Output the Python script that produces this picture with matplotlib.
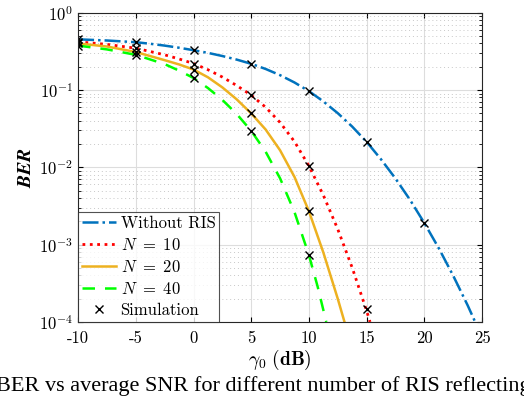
import matplotlib
matplotlib.use("Agg")
import matplotlib.pyplot as plt
import numpy as np

plt.rcParams['mathtext.fontset'] = 'cm'
plt.rcParams['font.family'] = 'serif'
plt.rcParams['font.serif'] = ['cmr10', 'DejaVu Serif']
plt.rcParams['axes.formatter.use_mathtext'] = True

# curves: SNR (dB) and BER
snr_norIS = [-10, -7.5, -5, -3.75, -2.5, -1.25, 0, 1.25, 2.5, 3.75, 5, 6.25,
             7.5, 8.75, 10, 11.25, 12.5, 13.75, 15, 16.25, 17.5, 18.75, 20,
             21.25, 22.5, 23.75, 24.4]
ber_norIS = [0.452, 0.4365, 0.415, 0.396, 0.375, 0.352, 0.327, 0.302, 0.275,
             0.247, 0.218, 0.187, 0.1555, 0.125, 0.0966, 0.0711, 0.0501,
             0.0336, 0.0213, 0.01266, 0.00715, 0.00381, 0.0019, 0.000898,
             0.000396, 0.000164, 0.0001]

snr_n10 = [-10, -7.5, -5, -2.5, -1.25, 0, 1.25, 2.5, 3.75, 5, 6.25, 7.5, 8.75,
           10, 11.25, 12.5, 13.75, 15, 15.29]
ber_n10 = [0.42, 0.389, 0.347, 0.285, 0.252, 0.22, 0.183, 0.147, 0.114, 0.0857,
           0.0598, 0.038, 0.0215, 0.0104, 0.00435, 0.00158, 0.000502, 0.000139,
           0.0001]

snr_n20 = [-10, -7.5, -5, -2.5, -1.25, 0, 1.25, 2.5, 3.75, 5, 6.25, 7.5, 8.75,
           10, 11.25, 12.5, 13.08]
ber_n20 = [0.40, 0.365, 0.31, 0.243, 0.214, 0.184, 0.146, 0.108, 0.0755,
           0.0497, 0.0308, 0.0166, 0.0075, 0.0027, 0.00079, 0.000199, 0.0001]

snr_n40 = [-10, -7.5, -5, -2.5, -1.25, 0, 1.25, 2.5, 3.75, 5, 6.25, 7.5, 8.75,
           10, 10.75, 11.5]
ber_n40 = [0.375, 0.335, 0.285, 0.216, 0.178, 0.143, 0.106, 0.0744, 0.0488,
           0.0296, 0.0159, 0.0072, 0.00263, 0.00073, 0.000288, 0.0001]

# simulation points
sim_snr = [-10, -5, 0, 5, 10, 15, 20,
           -10, -5, 0, 5, 10, 15,
           -10, -5, 0, 5, 10,
           -10, -5, 0, 5, 10]
sim_ber = [0.452, 0.415, 0.327, 0.218, 0.0965, 0.0213, 0.0019,
           0.42, 0.345, 0.22, 0.0857, 0.0105, 0.000145,
           0.40, 0.31, 0.184, 0.0497, 0.0027,
           0.375, 0.287, 0.143, 0.0296, 0.00073]

fig = plt.figure(figsize=(5.24, 3.96), dpi=100)
ax = fig.add_axes([0.149, 0.187, 0.771, 0.781])

ax.semilogy(snr_norIS, ber_norIS, color='#0072BD', ls='-.', lw=1.8, label='Without RIS')
ax.semilogy(snr_n10, ber_n10, color='red', ls=':', lw=2.0, label=r'$N\ =\ 10$')
ax.semilogy(snr_n20, ber_n20, color='#EDB120', ls='-', lw=1.8, label=r'$N\ =\ 20$')
ax.semilogy(snr_n40, ber_n40, color='#00FF00', ls=(0, (5, 4)), lw=1.8, label=r'$N\ =\ 40$')
ax.semilogy(sim_snr, sim_ber, 'kx', ms=6, mew=1.0, ls='none', label='Simulation')

ax.set_xlim(-10, 25)
ax.set_ylim(1e-4, 1)
ax.set_xticks([-10, -5, 0, 5, 10, 15, 20, 25])
ax.set_xticklabels(['-10', '-5', '0', '5', '10', '15', '20', '25'])
ax.grid(True, which='major', color='#dddddd', lw=0.8)
ax.grid(True, which='minor', color='#c8c8c8', ls=(0, (1, 3)), lw=0.7)
ax.tick_params(which='both', direction='in', top=True, right=True, labelsize=12)
ax.tick_params(axis='x', pad=6)
for s in ax.spines.values():
    s.set_color('#262626')
    s.set_linewidth(0.8)

ax.set_xlabel(r'$\gamma_0\ \mathbf{(dB)}$', fontsize=14, labelpad=2)
ax.set_ylabel(r'$\mathbfit{BER}$', fontsize=14, labelpad=3)

leg = ax.legend(loc='lower left', fontsize=12, frameon=True, fancybox=False,
                edgecolor='#262626', borderpad=0.25, labelspacing=0.35,
                handlelength=2.0, handletextpad=0.3, borderaxespad=0)
leg.get_frame().set_linewidth(0.8)

fig.text(-0.008, 0.012, 'BER vs average SNR for different number of RIS reflecting',
         fontsize=16, family='Liberation Serif', ha='left', va='baseline')

fig.savefig('out.png', dpi=100)
